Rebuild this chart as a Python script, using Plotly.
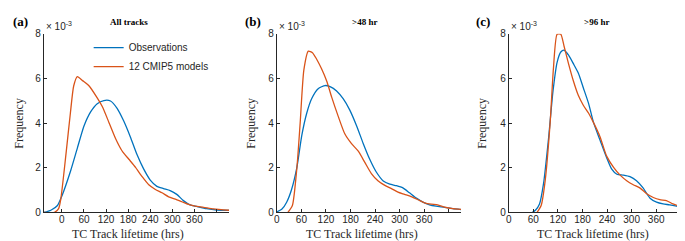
import plotly.graph_objects as go

# ---- data (frequency in units of 1e-3) ----
a_obs_x = [-49, -30, -12, 0, 24, 42, 60, 78, 96, 114, 132, 150, 168, 186, 204, 222, 240, 258, 276, 294, 312, 330, 348, 366, 393, 420, 454]
a_obs_y = [0.0, 0.10, 0.31, 0.74, 1.88, 2.88, 3.87, 4.50, 4.87, 5.01, 4.99, 4.66, 4.09, 3.38, 2.59, 1.95, 1.45, 1.17, 1.07, 0.98, 0.81, 0.53, 0.34, 0.27, 0.17, 0.11, 0.09]
a_mod_x = [-49, -20, -9, -3, 11, 23, 32, 42, 56, 74, 92, 110, 128, 146, 164, 182, 200, 218, 236, 254, 272, 290, 308, 326, 344, 362, 385, 412, 454]
a_mod_y = [0.0, 0.0, 0.17, 0.60, 2.60, 4.44, 5.66, 6.08, 5.90, 5.66, 5.23, 4.73, 4.02, 3.30, 2.74, 2.38, 2.02, 1.60, 1.24, 1.03, 0.88, 0.70, 0.60, 0.48, 0.36, 0.28, 0.23, 0.16, 0.10]

b_obs_x = [0, 12, 24, 36, 49, 61, 73, 85, 101, 118, 130, 146, 162, 178, 195, 211, 227, 243, 260, 276, 292, 308, 324, 341, 357, 373, 389, 410, 430, 450]
b_obs_y = [0.03, 0.14, 0.46, 1.03, 2.02, 3.45, 4.44, 5.09, 5.54, 5.68, 5.63, 5.44, 5.09, 4.59, 3.87, 3.09, 2.38, 1.81, 1.41, 1.27, 1.20, 1.10, 0.88, 0.64, 0.46, 0.34, 0.28, 0.23, 0.17, 0.13]
b_mod_x = [27, 38, 49, 57, 66, 77, 87, 97, 109, 122, 134, 150, 166, 182, 199, 215, 231, 247, 264, 280, 296, 312, 328, 345, 361, 377, 393, 410, 430, 450]
b_mod_y = [0.0, 0.31, 2.00, 4.00, 6.37, 7.22, 7.15, 6.87, 6.44, 5.87, 5.16, 4.30, 3.52, 3.09, 2.74, 2.24, 1.74, 1.42, 1.21, 1.07, 0.91, 0.81, 0.71, 0.57, 0.43, 0.37, 0.34, 0.24, 0.17, 0.14]

c_obs_x = [57, 65, 75, 85, 97, 108, 118, 127, 135, 146, 158, 170, 182, 195, 207, 223, 239, 251, 264, 280, 296, 312, 328, 345, 361, 377, 393, 410, 430, 450]
c_obs_y = [0.0, 0.10, 0.38, 1.31, 3.30, 5.44, 6.72, 7.18, 7.26, 7.04, 6.65, 6.23, 5.58, 4.87, 4.02, 3.23, 2.45, 1.95, 1.71, 1.67, 1.60, 1.42, 1.10, 0.64, 0.46, 0.38, 0.34, 0.28, 0.20, 0.13]
c_mod_x = [69, 79, 89, 101, 109, 118, 127, 135, 146, 158, 170, 182, 195, 207, 223, 239, 256, 272, 288, 304, 320, 336, 353, 369, 385, 401, 418, 434, 450]
c_mod_y = [0.0, 0.31, 1.45, 4.02, 6.44, 7.98, 7.98, 7.44, 6.65, 5.87, 5.23, 4.80, 4.44, 4.02, 3.38, 2.52, 2.02, 1.67, 1.42, 1.24, 1.10, 0.85, 0.67, 0.57, 0.53, 0.38, 0.28, 0.24, 0.23]

x_tickvals = [0, 60, 120, 180, 240, 300, 360]
x_ticktext = ["0", "60", "120", "180", "240", "300", "360"]
x_extra_ticks = [420]
y_tickvals = [0, 2, 4, 6, 8]
y_ticktext = ["0", "2", "4", "6", "8"]

panel_labels = ["(a)", "(b)", "(c)"]
panel_titles = ["All tracks", ">48 hr", ">96 hr"]
series_names = ["Observations", "12 CMIP5 models"]
x_title = "TC Track lifetime (hrs)"
y_title = "Frequency"

BLUE = "#0072BD"
ORANGE = "#D95319"
AX = "#262626"
SERIF = "Liberation Serif, Times New Roman"
SANS = "Liberation Sans, Arial"

W, H = 685, 241
px = lambda v: v / W
py = lambda v: 1 - v / H

x_domains = [[px(33), px(219)], [px(267), px(452)], [px(500), px(685)]]
y_domain = [py(209), py(21.7)]
x_ranges = [[-49, 454], [0, 450], [0, 450]]

fig = go.Figure()
data = [(a_obs_x, a_obs_y, a_mod_x, a_mod_y), (b_obs_x, b_obs_y, b_mod_x, b_mod_y), (c_obs_x, c_obs_y, c_mod_x, c_mod_y)]
for i, (ox, oy, mx, my) in enumerate(data):
    xa = "x" if i == 0 else f"x{i+1}"
    ya = "y" if i == 0 else f"y{i+1}"
    fig.add_trace(go.Scatter(x=ox, y=oy, mode="lines", line=dict(color=BLUE, width=1.3, shape="spline", smoothing=0.6),
                             name=series_names[0], showlegend=(i == 0), xaxis=xa, yaxis=ya))
    fig.add_trace(go.Scatter(x=mx, y=my, mode="lines", line=dict(color=ORANGE, width=1.3, shape="spline", smoothing=0.6),
                             name=series_names[1], showlegend=(i == 0), xaxis=xa, yaxis=ya))

layout = dict(width=W, height=H, margin=dict(l=0, r=0, t=0, b=0),
              plot_bgcolor="white", paper_bgcolor="white",
              legend=dict(x=px(78), y=py(21), xanchor="left", yanchor="top",
                          font=dict(family=SANS, size=10, color=AX),
                          bgcolor="rgba(0,0,0,0)", tracegroupgap=0, itemwidth=30))
for i in range(3):
    sx = "" if i == 0 else str(i + 1)
    layout[f"xaxis{sx}"] = dict(domain=x_domains[i], range=x_ranges[i], anchor=f"y{sx}",
                                tickvals=x_tickvals, ticktext=x_ticktext, ticks="inside", ticklen=3,
                                tickcolor=AX, showline=True, linecolor=AX, linewidth=1,
                                showgrid=False, zeroline=False, ticklabelstandoff=-2,
                                minor=dict(tickvals=x_extra_ticks, ticks="inside", ticklen=3, tickcolor=AX, showgrid=False),
                                tickfont=dict(family=SANS, size=10, color=AX))
    layout[f"yaxis{sx}"] = dict(domain=y_domain, range=[0, 8], anchor=f"x{sx}",
                                tickvals=y_tickvals, ticktext=y_ticktext, ticks="inside", ticklen=3,
                                tickcolor=AX, showline=True, linecolor=AX, linewidth=1,
                                showgrid=False, zeroline=False,
                                tickfont=dict(family=SANS, size=10, color=AX))
fig.update_layout(**layout)

label_x = [0, 233, 465]
title_x = [119, 355, 588]
ytitle_x = [8, 241, 473]
xtitle_x = [117.5, 353, 585]
for i in range(3):
    fig.add_annotation(x=px(label_x[i]), y=py(9), xref="paper", yref="paper", xanchor="left", yanchor="middle",
                       text=f"<b>{panel_labels[i]}</b>", showarrow=False,
                       font=dict(family=SERIF, size=13, color="black"))
    fig.add_annotation(x=px(title_x[i]), y=py(9), xref="paper", yref="paper", xanchor="center", yanchor="middle",
                       text=f"<b>{panel_titles[i]}</b>", showarrow=False,
                       font=dict(family=SERIF, size=9, color="black"))
    fig.add_annotation(x=x_domains[i][0], y=py(14), xref="paper", yref="paper", xanchor="left", yanchor="middle",
                       text="× 10<sup>-3</sup>", showarrow=False,
                       font=dict(family=SANS, size=10, color=AX))
    fig.add_annotation(x=px(xtitle_x[i]), y=py(232), xref="paper", yref="paper", xanchor="center", yanchor="middle",
                       text=x_title, showarrow=False,
                       font=dict(family=SERIF, size=12, color=AX))
    fig.add_annotation(x=px(ytitle_x[i]), y=py(115), xref="paper", yref="paper", xanchor="center", yanchor="middle",
                       text=y_title, showarrow=False, textangle=-90,
                       font=dict(family=SERIF, size=12, color=AX))

fig.write_html("out.html")
